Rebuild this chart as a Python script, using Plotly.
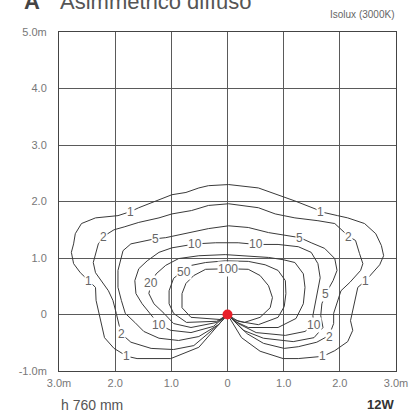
import plotly.graph_objects as go

# Isolux levels and contour paths (metres)
levels = ["1", "2", "5", "10", "20", "50", "100"]

c1_x = [0, -0.12, -0.51, -1.01, -1.61, -1.79, -2.02, -2.19, -2.25, -2.28, -2.34, -2.35, -2.48, -2.62, -2.74, -2.78,
        -2.74, -2.71, -2.60, -2.35, -1.95, -1.73, -1.58, -1.27, -0.99, -0.74, -0.51, -0.34, 0.02, 0.55, 0.85, 1.20,
        1.56, 1.65, 1.96, 2.14, 2.44, 2.64, 2.74, 2.78, 2.71, 2.55, 2.46, 2.32, 2.27, 2.23, 2.19, 2.23, 2.14, 1.91,
        1.70, 1.26, 0.99, 0.58, 0.25, 0]
c1_y = [0, -0.14, -0.58, -0.78, -0.78, -0.74, -0.60, -0.41, -0.16, 0.02, 0.25, 0.48, 0.60, 0.74, 0.90, 1.10,
        1.25, 1.43, 1.61, 1.71, 1.75, 1.82, 1.89, 2.01, 2.12, 2.16, 2.24, 2.28, 2.30, 2.24, 2.14, 2.01,
        1.87, 1.82, 1.75, 1.71, 1.61, 1.43, 1.22, 1.04, 0.88, 0.69, 0.60, 0.48, 0.25, 0.07, -0.11, -0.28, -0.48, -0.64,
        -0.74, -0.78, -0.78, -0.65, -0.41, 0]

c2_x = [0, -0.16, -0.60, -0.96, -1.36, -1.72, -1.88, -1.93, -1.98, -2.04, -2.12, -2.25, -2.35, -2.39, -2.34, -2.30,
        -2.18, -2.02, -1.84, -1.58, -1.22, -0.99, -0.64, -0.34, 0.02, 0.55, 0.85, 1.20, 1.61, 1.91, 2.16, 2.28,
        2.35, 2.41, 2.37, 2.18, 2.02, 1.96, 1.89, 1.89, 1.81, 1.59, 1.26, 1.01, 0.64, 0.35, 0]
c2_y = [0, -0.18, -0.55, -0.62, -0.60, -0.49, -0.35, -0.19, 0.02, 0.25, 0.42, 0.60, 0.74, 0.92, 1.10, 1.25,
        1.40, 1.50, 1.55, 1.63, 1.71, 1.78, 1.84, 1.93, 1.96, 1.89, 1.78, 1.71, 1.66, 1.61, 1.38, 1.31,
        1.08, 0.90, 0.78, 0.57, 0.42, 0.25, 0.02, -0.16, -0.37, -0.49, -0.57, -0.60, -0.51, -0.34, 0]

c5_x = [0, -0.16, -0.51, -0.87, -1.22, -1.49, -1.65, -1.82, -1.89, -1.95, -1.95, -1.91, -1.86, -1.72, -1.47, -1.29,
        -1.10, -0.74, -0.34, 0.02, 0.37, 0.73, 1.29, 1.49, 1.73, 1.91, 1.95, 1.88, 1.75, 1.68, 1.66, 1.70, 1.54,
        1.17, 0.64, 0.28, 0]
c5_y = [0, -0.18, -0.39, -0.46, -0.42, -0.30, -0.14, 0.02, 0.25, 0.48, 0.78, 0.95, 1.13, 1.25, 1.31, 1.34,
        1.36, 1.43, 1.52, 1.57, 1.54, 1.45, 1.36, 1.27, 1.17, 0.99, 0.78, 0.60, 0.37, 0.19, -0.02, -0.23, -0.41,
        -0.48, -0.42, -0.28, 0]

c10_x = [0, -0.25, -0.65, -1.01, -1.22, -1.36, -1.52, -1.63, -1.65, -1.58, -1.43, -1.22, -0.99, -0.57, -0.21, 0.19,
         0.51, 0.90, 1.26, 1.49, 1.61, 1.65, 1.61, 1.56, 1.52, 1.54, 1.38, 1.03, 0.51, 0.19, 0]
c10_y = [0, -0.21, -0.32, -0.28, -0.18, 0, 0.19, 0.37, 0.60, 0.81, 0.95, 1.10, 1.18, 1.25, 1.27, 1.27,
         1.24, 1.24, 1.20, 1.10, 0.90, 0.65, 0.42, 0.19, -0.02, -0.18, -0.30, -0.37, -0.32, -0.16, 0]

c20_x = [0, -0.19, -0.65, -0.96, -1.13, -1.31, -1.40, -1.36, -1.27, -1.10, -0.87, -0.51, -0.04, 0.37, 0.73, 0.99,
         1.20, 1.35, 1.38, 1.35, 1.22, 0.90, 0.37, 0.11, 0]
c20_y = [0, -0.14, -0.23, -0.16, 0.02, 0.19, 0.37, 0.55, 0.72, 0.87, 0.99, 1.04, 1.06, 1.04, 1.01, 0.97,
         0.92, 0.72, 0.48, 0.19, -0.07, -0.23, -0.23, -0.11, 0]

c50_x = [0, -0.19, -0.73, -0.96, -1.04, -1.04, -0.96, -0.78, -0.64, -0.39, -0.04, 0.37, 0.67, 0.90, 1.03, 1.04,
         1.01, 0.90, 0.55, 0.19, 0]
c50_y = [0, -0.12, -0.14, 0.02, 0.19, 0.42, 0.64, 0.78, 0.87, 0.92, 0.95, 0.94, 0.88, 0.78, 0.60, 0.37,
         0.14, -0.05, -0.18, -0.12, 0]

c100_x = [0, -0.11, -0.65, -0.81, -0.81, -0.74, -0.60, -0.39, 0, 0.37, 0.58, 0.73, 0.80, 0.76, 0.58, 0.30, 0.11, 0]
c100_y = [0, -0.09, -0.05, 0.12, 0.37, 0.55, 0.69, 0.80, 0.81, 0.80, 0.69, 0.51, 0.30, 0.12, -0.05, -0.14, -0.09, 0]

contours = [(c1_x, c1_y), (c2_x, c2_y), (c5_x, c5_y), (c10_x, c10_y), (c20_x, c20_y), (c50_x, c50_y), (c100_x, c100_y)]

# contour labels: text, x, y
label_text = ["1", "1", "1", "1", "1", "1", "2", "2", "2", "2", "5", "5", "5", "10", "10", "10", "10", "20", "50", "100"]
label_x = [-1.73, -2.48, -1.79, 1.65, 2.46, 1.70, -2.21, -1.88, 2.16, 1.81, -1.29, 1.29, 1.75, -0.57, 0.51, -1.22, 1.54, -1.36, -0.78, 0.0]
label_y = [1.82, 0.60, -0.74, 1.82, 0.60, -0.74, 1.38, -0.35, 1.38, -0.39, 1.34, 1.36, 0.37, 1.25, 1.24, -0.19, -0.18, 0.55, 0.76, 0.81]

x_ticks = [-3, -2, -1, 0, 1, 2, 3]
x_ticktext = ["3.0m", "2.0", "1.0", "0", "1.0", "2.0", "3.0m"]
y_ticks = [-1, 0, 1, 2, 3, 4, 5]
y_ticktext = ["-1.0m", "0", "1.0", "2.0", "3.0", "4.0", "5.0m"]

source_x = [0]
source_y = [0]

FONT = "Liberation Sans, Arial, sans-serif"
fig = go.Figure()

for (cx, cy), lv in zip(contours, levels):
    fig.add_trace(go.Scatter(x=cx, y=cy, mode="lines", line=dict(color="#3a3a3a", width=1),
                             hoverinfo="skip", showlegend=False, name=lv))

for t, lx, ly in zip(label_text, label_x, label_y):
    fig.add_annotation(x=lx, y=ly, text=t, showarrow=False, bgcolor="white",
                       font=dict(family=FONT, size=12, color="#666"), borderpad=0)

fig.add_trace(go.Scatter(x=source_x, y=source_y, mode="markers",
                         marker=dict(color="#e8202a", size=10), showlegend=False, hoverinfo="skip"))

fig.update_xaxes(range=[-3, 3], tickvals=x_ticks, ticktext=x_ticktext, showgrid=True, gridcolor="#5a5a5a",
                 gridwidth=1, zeroline=False, showline=True, linecolor="#444", linewidth=1, mirror=True,
                 ticks="outside", ticklen=2, tickcolor="rgba(0,0,0,0)",
                 tickfont=dict(family=FONT, size=11, color="#777"), fixedrange=True)
fig.update_yaxes(range=[-1, 5], tickvals=y_ticks, ticktext=y_ticktext, showgrid=True, gridcolor="#5a5a5a",
                 gridwidth=1, zeroline=False, showline=True, linecolor="#444", linewidth=1, mirror=True,
                 ticks="outside", ticklen=9, tickcolor="rgba(0,0,0,0)",
                 tickfont=dict(family=FONT, size=11, color="#777"), fixedrange=True)

fig.add_annotation(xref="paper", yref="paper", x=-0.109, y=1.09, xanchor="left", yanchor="middle",
                   text="<b>A</b>", showarrow=False, font=dict(family=FONT, size=22, color="#444"))
fig.add_annotation(xref="paper", yref="paper", x=-0.003, y=1.09, xanchor="left", yanchor="middle",
                   text="Asimmetrico diffuso", showarrow=False, font=dict(family=FONT, size=22, color="#555"))
fig.add_annotation(xref="paper", yref="paper", x=1.0, y=1.052, xanchor="right", yanchor="middle",
                   text="Isolux (3000K)", showarrow=False, font=dict(family=FONT, size=10, color="#666"))
fig.add_annotation(xref="paper", yref="paper", x=0.0, y=-0.1, xanchor="left", yanchor="middle",
                   text="h 760 mm", showarrow=False, font=dict(family=FONT, size=14, color="#555"))
fig.add_annotation(xref="paper", yref="paper", x=1.0, y=-0.1, xanchor="right", yanchor="middle",
                   text="<b>12W</b>", showarrow=False, font=dict(family=FONT, size=13, color="#333"))

fig.update_layout(width=420, height=416, margin=dict(l=59, r=22, t=32, b=45),
                  plot_bgcolor="white", paper_bgcolor="white", showlegend=False)

fig.write_html("out.html", config={"displayModeBar": False},
               post_script="document.body.style.margin='0';document.body.style.overflow='hidden';")
